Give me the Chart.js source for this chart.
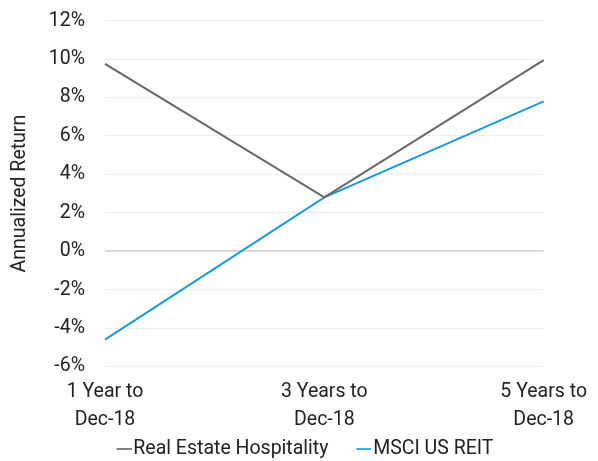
<!DOCTYPE html>
<html>
<head>
<meta charset="utf-8">
<script src="https://cdn.jsdelivr.net/npm/chart.js@4"></script>
<style>
  body { margin: 0; background: #fff; overflow: hidden; }
  #wrap { width: 598px; height: 473px; margin-top: -11px; }
</style>
</head>
<body>
<div id="wrap"><canvas id="grafico"></canvas></div>
<script>
const categorias = [['1 Year to', 'Dec-18'], ['3 Years to', 'Dec-18'], ['5 Years to', 'Dec-18']];
const hospitality = [9.75, 2.8, 9.95];
const msciReit = [-4.6, 2.8, 7.8];
const ticks = { min: -6, max: 12, step: 2 };

Chart.defaults.font.family = 'Roboto, "DejaVu Sans", sans-serif';
Chart.defaults.font.size = 19.5;
Chart.defaults.color = '#222';

// short line used as legend marker, drawn at the right end of the image
function marcaLinea(color) {
    const c = document.createElement('canvas');
    c.width = 43;
    c.height = 2;
    const g = c.getContext('2d');
    g.fillStyle = color;
    g.fillRect(28, 0, 15, 2);
    return c;
}

const ctx = document.getElementById('grafico').getContext('2d');
const grafico = new Chart(ctx, {
    type: 'line',
    data: {
        labels: categorias,
        datasets: [{
            label: 'Real Estate Hospitality',
            data: hospitality,
            borderColor: '#666666',
            backgroundColor: '#666666',
            borderWidth: 2,
            pointRadius: 0,
            pointStyle: marcaLinea('#808080'),
            tension: 0
        }, {
            label: 'MSCI US REIT',
            data: msciReit,
            borderColor: '#1a9ad6',
            backgroundColor: '#1a9ad6',
            borderWidth: 2,
            pointRadius: 0,
            pointStyle: marcaLinea('#3aaee0'),
            tension: 0
        }]
    },
    options: {
        responsive: true,
        maintainAspectRatio: false,
        animation: false,
        layout: { padding: { top: 0, right: 8, left: 0, bottom: -7 } },
        plugins: {
            legend: {
                position: 'bottom',
                labels: {
                    usePointStyle: true,
                    pointStyleWidth: 27,
                    padding: 8,
                    font: { size: 19.5 },
                    color: '#222'
                }
            },
            tooltip: { enabled: false }
        },
        scales: {
            x: {
                offset: false,
                grid: { display: false, drawTicks: false },
                border: { display: false },
                ticks: { padding: 11, maxRotation: 0, font: { lineHeight: 1.45 } },
                afterFit: (s) => { s.height = 65; }
            },
            y: {
                min: ticks.min,
                max: ticks.max,
                border: { display: false },
                grid: {
                    drawTicks: false,
                    color: (c) => c.tick && c.tick.value === 0 ? '#d9d9d9' : '#eeeeee',
                    lineWidth: (c) => c.tick && c.tick.value === 0 ? 2 : 1
                },
                ticks: {
                    stepSize: ticks.step,
                    padding: 20,
                    callback: (v) => v + '%'
                },
                title: {
                    display: true,
                    text: 'Annualized Return',
                    padding: { top: 8, bottom: 0 }
                },
                afterFit: (s) => { s.width = 105; }
            }
        }
    }
});
</script>
</body>
</html>
